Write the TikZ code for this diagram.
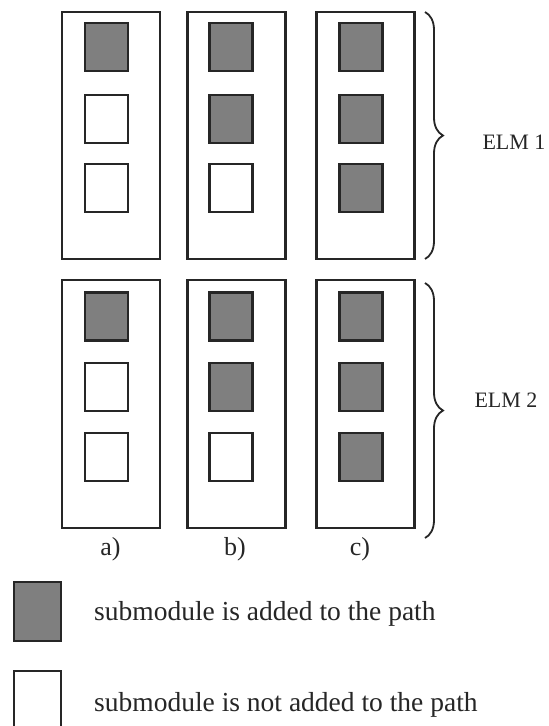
\documentclass[tikz,border=0pt]{standalone}
\usepackage{fontspec}
\setmainfont{Liberation Serif}
\usetikzlibrary{decorations.pathreplacing}
\definecolor{edge}{HTML}{262626}
\definecolor{ongray}{HTML}{7F7F7F}
\begin{document}
\begin{tikzpicture}[x=1pt,y=-1pt,
  modbox/.style={draw=edge, line width=2.3pt, fill=white, minimum width=98pt, minimum height=247pt, inner sep=0pt},
  subbox/.style={draw=edge, line width=2.6pt, minimum width=43pt, minimum height=48pt, inner sep=0pt},
  subon/.style={subbox, fill=ongray},
  suboff/.style={subbox, fill=white},
  legon/.style={draw=edge, line width=2.6pt, fill=ongray, minimum width=47pt, minimum height=59pt, inner sep=0pt},
  legoff/.style={draw=edge, line width=2.6pt, fill=white, minimum width=47pt, minimum height=59pt, inner sep=0pt},
  bracestyle/.style={draw=edge, line width=1.8pt, decorate, decoration={brace, amplitude=18pt}},
  elmlabel/.style={font=\fontsize{22}{24}\selectfont, text=edge, inner sep=0pt},
  collabel/.style={font=\fontsize{26}{28}\selectfont, text=edge, inner sep=0pt},
  legtext/.style={font=\fontsize{27.5}{30}\selectfont, text=edge, inner sep=0pt, anchor=base west}
]
\clip (0,0) rectangle (549,726);
\fill[white] (0,0) rectangle (549,726);

% ELM 1 column boxes
\node[modbox] (a1) at (111,135.5) {};
\node[modbox] (b1) at (236.5,135.5) {};
\node[modbox] (c1) at (365.5,135.5) {};
% ELM 2 column boxes
\node[modbox, minimum height=248pt] (a2) at (111,404) {};
\node[modbox, minimum height=248pt] (b2) at (236.5,404) {};
\node[modbox, minimum height=248pt] (c2) at (365.5,404) {};

% submodules ELM 1
\node[subon]  (a1s1) at (106.5,47) {};
\node[suboff] (a1s2) at (106.5,119) {};
\node[suboff] (a1s3) at (106.5,188) {};
\node[subon]  (b1s1) at (231,47) {};
\node[subon]  (b1s2) at (231,119) {};
\node[suboff] (b1s3) at (231,188) {};
\node[subon]  (c1s1) at (361,47) {};
\node[subon]  (c1s2) at (361,119) {};
\node[subon]  (c1s3) at (361,188) {};
% submodules ELM 2
\node[subon]  (a2s1) at (106.5,316.5) {};
\node[suboff] (a2s2) at (106.5,387) {};
\node[suboff] (a2s3) at (106.5,457) {};
\node[subon]  (b2s1) at (231,316.5) {};
\node[subon]  (b2s2) at (231,387) {};
\node[suboff] (b2s3) at (231,457) {};
\node[subon]  (c2s1) at (361,316.5) {};
\node[subon]  (c2s2) at (361,387) {};
\node[subon]  (c2s3) at (361,457) {};

% braces
\coordinate (br1t) at (425,12);
\coordinate (br1b) at (425,259);
\coordinate (br2t) at (425,283);
\coordinate (br2b) at (425,538);
\draw[bracestyle] (br1t) -- (br1b);
\draw[bracestyle] (br2t) -- (br2b);
\node[elmlabel] (elm1) at (514,142) {ELM 1};
\node[elmlabel] (elm2) at (506,400.5) {ELM 2};

% column labels
\node[collabel] (la) at (110.5,549) {a)};
\node[collabel] (lb) at (235,549) {b)};
\node[collabel] (lc) at (360,549) {c)};

% legend
\node[legon]  (leg1) at (37.5,611.5) {};
\node[legoff] (leg2) at (37.5,700.5) {};
\node[legtext] (leg1t) at (94,620) {submodule is added to the path};
\node[legtext] (leg2t) at (94,711.5) {submodule is not added to the path};
\end{tikzpicture}
\end{document}
